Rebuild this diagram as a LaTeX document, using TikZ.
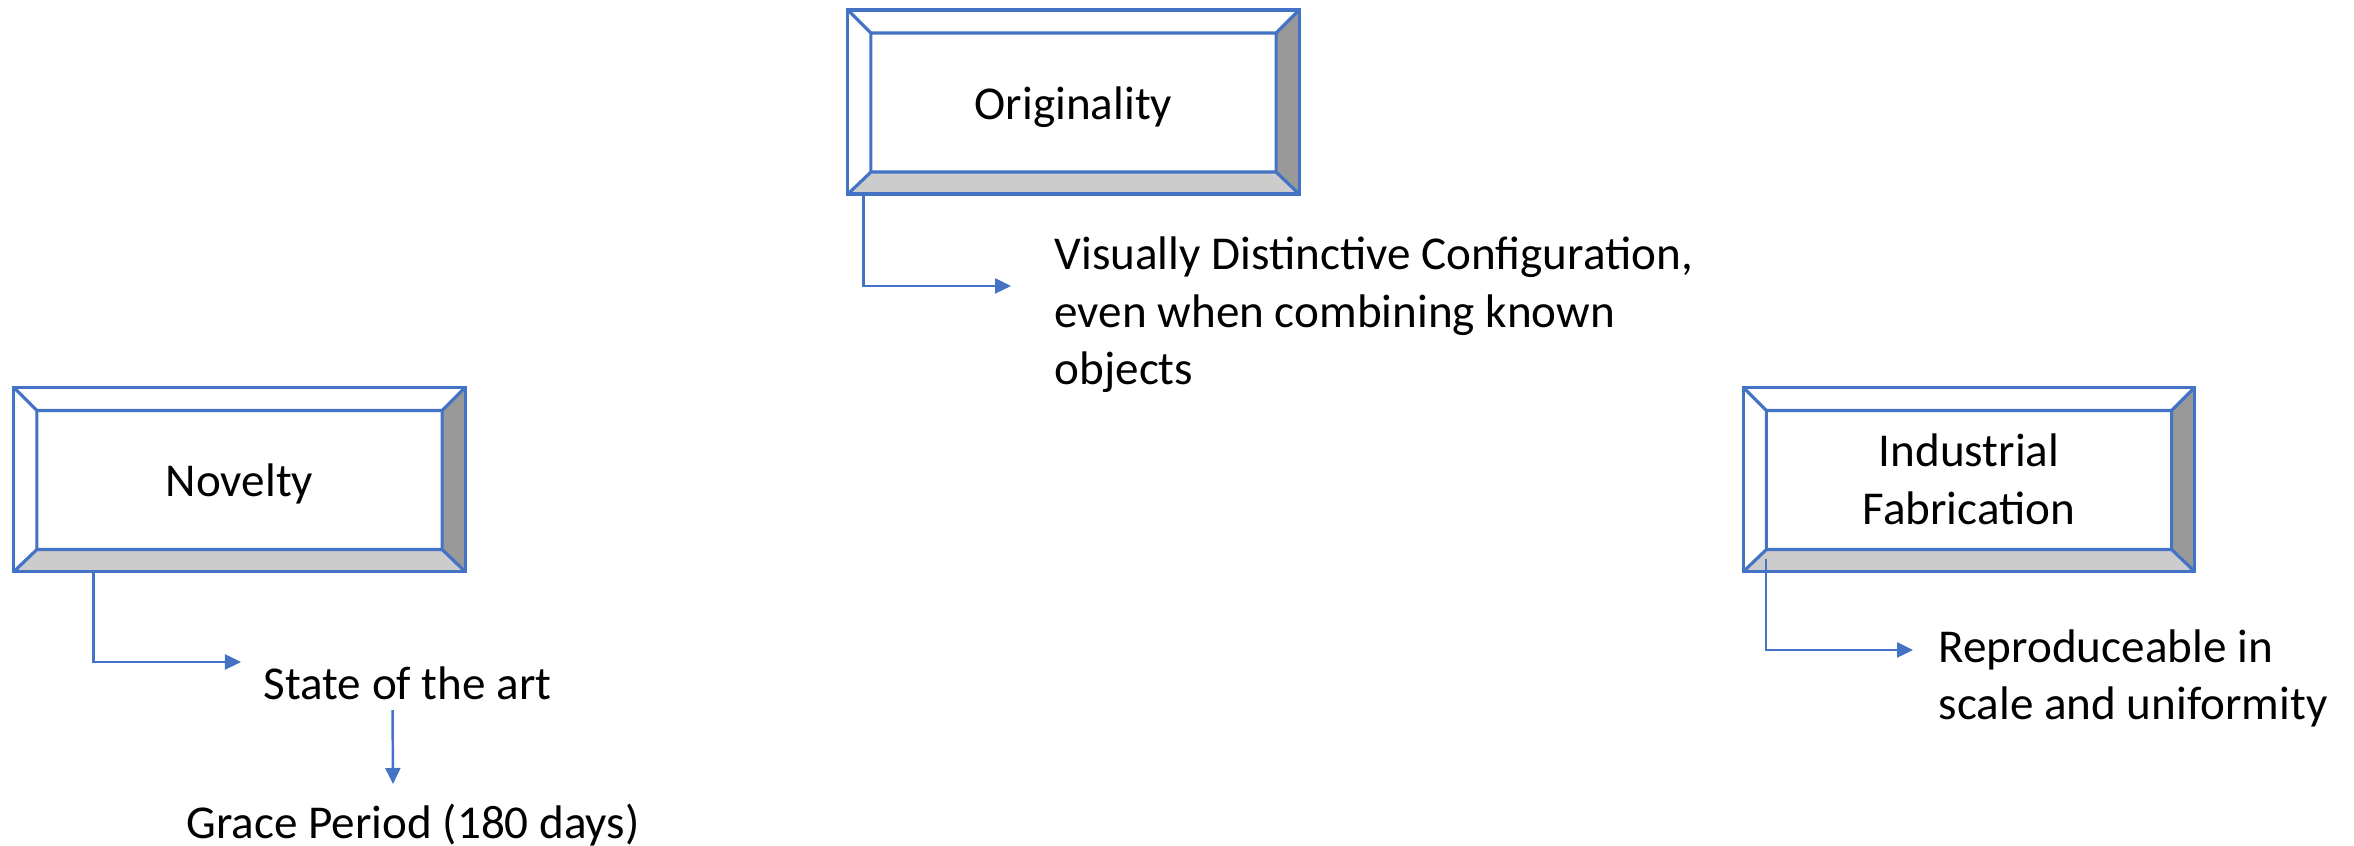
\documentclass[tikz,border=0pt]{standalone}
\usepackage{fontspec}
\setmainfont{Carlito}
\usetikzlibrary{arrows.meta}
\definecolor{lineblue}{HTML}{4472C4}
\definecolor{shadedark}{HTML}{999999}
\definecolor{shadelight}{HTML}{CCCCCC}
\tikzset{
  bevelbox/.style={draw=lineblue,line width=.9pt,fill=white,minimum width=4.51cm,
    minimum height=1.84cm,inner sep=0pt,align=center,
    path picture={
      \coordinate (bl) at (path picture bounding box.south west);
      \coordinate (br) at (path picture bounding box.south east);
      \coordinate (tl) at (path picture bounding box.north west);
      \coordinate (tr) at (path picture bounding box.north east);
      \coordinate (ibl) at ([shift={(.23cm,.22cm)}]bl);
      \coordinate (ibr) at ([shift={(-.23cm,.22cm)}]br);
      \coordinate (itl) at ([shift={(.23cm,-.23cm)}]tl);
      \coordinate (itr) at ([shift={(-.23cm,-.23cm)}]tr);
      \fill[shadelight] (bl)--(br)--(ibr)--(ibl)--cycle;
      \fill[shadedark] (br)--(tr)--(itr)--(ibr)--cycle;
      \draw[lineblue,line width=.9pt] (ibl) rectangle (itr) (bl)--(ibl) (br)--(ibr) (tl)--(itl) (tr)--(itr);
    }},
  oneline/.style={text height=.45cm,text depth=.1cm},
  txt/.style={anchor=base west,align=left,inner sep=0pt},
  link/.style={draw=lineblue,line width=.7pt,-{Triangle[length=.16cm,width=.15cm]}}
}
\begin{document}
\begin{tikzpicture}[x=.01cm,y=.01cm,font=\fontsize{13.4}{16.4}\selectfont]
  \useasboundingbox (0,0) rectangle (2354,846);
  \node[bevelbox,oneline] (orig) at (1073.5,744) {Originality};
  \node[bevelbox,oneline] (novelty) at (239.5,366.5) {Novelty};
  \node[bevelbox] (indus) at (1969,366.5) {Industrial\\Fabrication};
  \node[txt] (visual) at (1054,461) {Visually Distinctive Configuration,\\even when combining known\\objects};
  \node[txt] (state) at (263,146) {State of the art};
  \node[txt] (grace) at (186,7) {Grace Period (180 days)};
  \node[txt] (repro) at (1938,126) {Reproduceable in\\scale and uniformity};
  \coordinate (visualin) at (1011,560);
  \coordinate (statein) at (241,184);
  \coordinate (gracein) at (393,62);
  \coordinate (reproin) at (1913,196);
  \draw[link] ([xshift=.17cm]orig.south west) |- (visualin);
  \draw[link] ([xshift=.81cm]novelty.south west) |- (statein);
  \draw[link] ([xshift=-.15cm,yshift=-.09cm]state.south) -- (gracein);
  \draw[link] ([xshift=.24cm,yshift=.14cm]indus.south west) |- (reproin);
\end{tikzpicture}
\end{document}
